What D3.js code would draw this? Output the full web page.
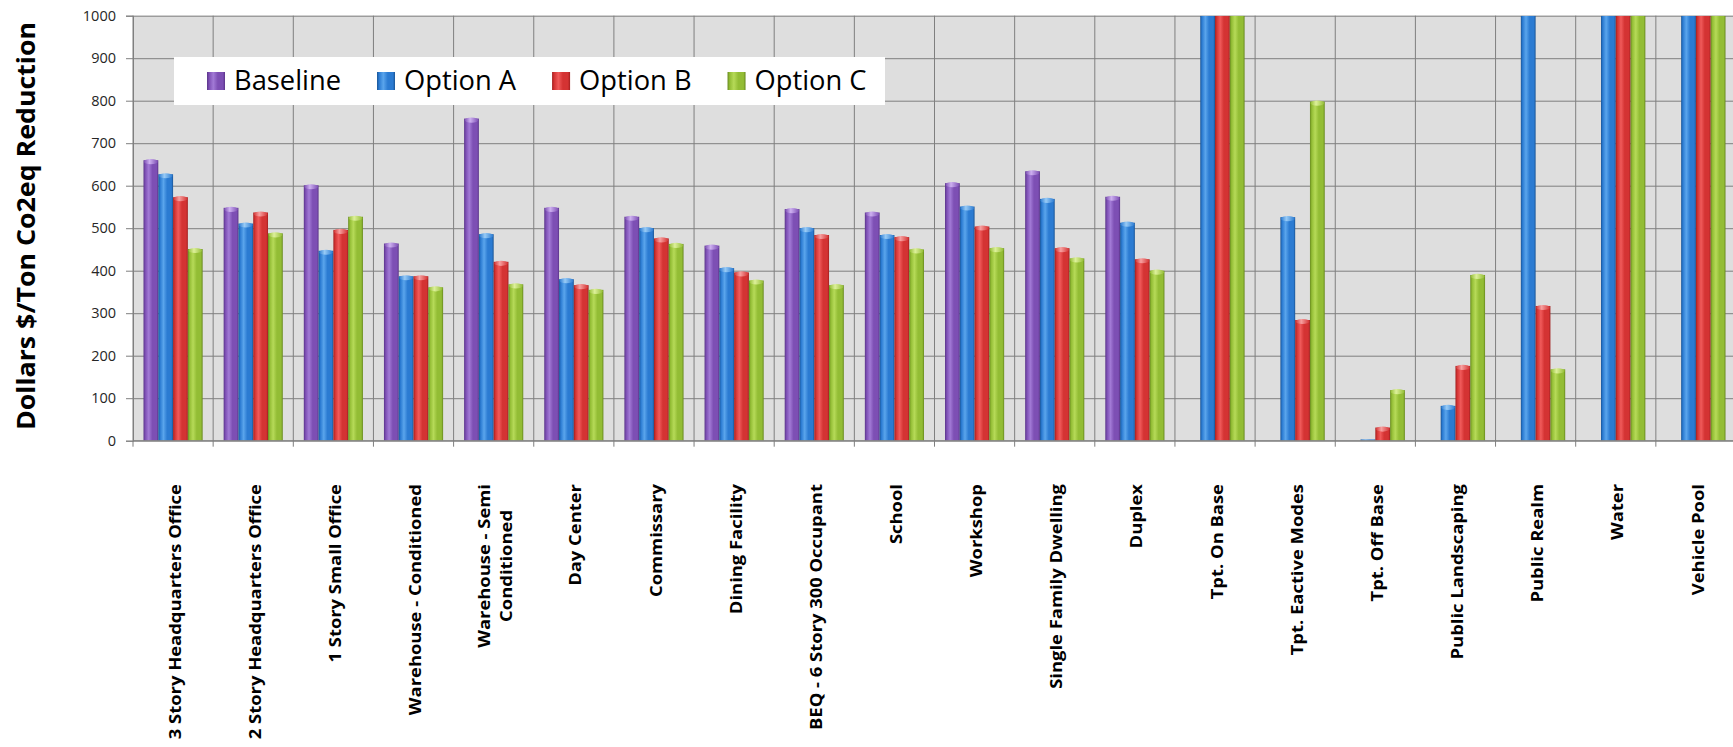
<!DOCTYPE html>
<html>
<head>
<meta charset="utf-8">
<script src="https://cdn.jsdelivr.net/npm/d3@7"></script>
<style>
  html, body { margin: 0; padding: 0; background: #ffffff; }
  svg { display: block; }
</style>
</head>
<body>
<svg id="chart" width="1733" height="747"></svg>
<script>
// Cost per ton of CO2eq reduction by facility / measure type
const categories = [
  "3 Story Headquarters Office", "2 Story Headquarters Office", "1 Story Small Office",
  "Warehouse - Conditioned", "Warehouse - Semi\nConditioned", "Day Center", "Commissary",
  "Dining Facility", "BEQ - 6 Story 300 Occupant", "School", "Workshop",
  "Single Family Dwelling", "Duplex", "Tpt. On Base", "Tpt. Eactive Modes",
  "Tpt. Off Base", "Public Landscaping", "Public Realm", "Water", "Vehicle Pool"
];
const seriesNames = ["Baseline", "Option A", "Option B", "Option C"];
const baseline = [660, 548, 601, 464, 758, 548, 527, 459, 545, 537, 606, 634, 574,
                  null, null, null, null, null, null, null];
const optionA  = [627, 511, 447, 387, 486, 380, 500, 406, 500, 484, 551, 569, 513,
                  1000, 526, 3, 82, 1000, 1000, 1000];
const optionB  = [573, 537, 496, 387, 421, 366, 476, 396, 484, 479, 504, 453, 427,
                  1000, 284, 31, 176, 317, 1000, 1000];
const optionC  = [451, 488, 527, 361, 368, 355, 463, 377, 366, 450, 453, 429, 400,
                  1000, 798, 119, 390, 168, 1000, 1000];
const yTicks = [0, 100, 200, 300, 400, 500, 600, 700, 800, 900, 1000];

const seriesValues = [baseline, optionA, optionB, optionC];

// Shading for each series: edge, body, highlight, top cap
const palette = [
  { edge: "#5a3489", body: "#7d4fb4", light: "#a27ad6", cap: "#cdb0f0" },
  { edge: "#1a5596", body: "#2b7bd2", light: "#5aa5ec", cap: "#98cbf6" },
  { edge: "#a11f1f", body: "#d43333", light: "#f05a5a", cap: "#f7a0a0" },
  { edge: "#67891e", body: "#93bd35", light: "#b6da58", cap: "#ddf09a" }
];

const plot = { left: 133, top: 15.7, bottom: 440.7, bandW: 80.15 };
plot.right = plot.left + categories.length * plot.bandW;

const svg = d3.select("#chart");
const defs = svg.append("defs");

palette.forEach((p, i) => {
  const g = defs.append("linearGradient").attr("id", "bar" + i)
    .attr("x1", "0").attr("x2", "1").attr("y1", "0").attr("y2", "0");
  [[0, p.edge], [0.12, p.body], [0.35, p.light], [0.6, p.body], [0.88, p.body], [1, p.edge]]
    .forEach(([o, c]) => g.append("stop").attr("offset", o).attr("stop-color", c));
  const c = defs.append("linearGradient").attr("id", "cap" + i)
    .attr("x1", "0").attr("x2", "1").attr("y1", "0").attr("y2", "0");
  [[0, p.body], [0.4, p.cap], [1, p.body]]
    .forEach(([o, col]) => c.append("stop").attr("offset", o).attr("stop-color", col));
});

defs.append("clipPath").attr("id", "plotClip")
  .append("rect")
  .attr("x", plot.left).attr("y", plot.top)
  .attr("width", plot.right - plot.left).attr("height", plot.bottom - plot.top);

// Scales
const y = d3.scaleLinear().domain([0, 1000]).range([plot.bottom, plot.top]);
const x0 = d3.scaleBand().domain(d3.range(categories.length))
  .range([plot.left, plot.right]).paddingInner(0).paddingOuter(0);
const x1 = d3.scaleBand().domain(d3.range(seriesNames.length))
  .range([10.5, x0.bandwidth() - 10.5]).padding(0);

// Plot background
svg.append("rect")
  .attr("x", plot.left).attr("y", plot.top)
  .attr("width", plot.right - plot.left).attr("height", plot.bottom - plot.top)
  .attr("fill", "#dedede");

// Horizontal gridlines
svg.append("g")
  .attr("transform", `translate(${plot.left},0)`)
  .call(d3.axisLeft(y).tickValues(yTicks).tickSize(-(plot.right - plot.left)).tickFormat(""))
  .call(g => g.select(".domain").remove())
  .call(g => g.selectAll(".tick line").attr("stroke", "#7f7f7f").attr("stroke-width", 1));

// Vertical category dividers
const dividers = d3.range(categories.length + 1).map(i => plot.left + i * x0.step());
svg.append("g").selectAll("line").data(dividers).join("line")
  .attr("x1", d => d).attr("x2", d => d)
  .attr("y1", plot.top).attr("y2", plot.bottom + 6)
  .attr("stroke", "#7f7f7f").attr("stroke-width", 1);

// Bars
const barLayer = svg.append("g").attr("clip-path", "url(#plotClip)");
const barData = [];
seriesValues.forEach((vals, s) => vals.forEach((v, c) => {
  if (v !== null) barData.push({ s, c, v });
}));
const groups = barLayer.selectAll("g.bar").data(barData).join("g").attr("class", "bar");
groups.append("rect")
  .attr("x", d => x0(d.c) + x1(d.s))
  .attr("y", d => y(d.v))
  .attr("width", x1.bandwidth())
  .attr("height", d => plot.bottom - y(d.v))
  .attr("fill", d => `url(#bar${d.s})`);
groups.filter(d => d.v < 1000 && d.v > 5).append("ellipse")
  .attr("cx", d => x0(d.c) + x1(d.s) + x1.bandwidth() / 2)
  .attr("cy", d => y(d.v) + 1.5)
  .attr("rx", x1.bandwidth() / 2 - 0.5)
  .attr("ry", 2.6)
  .attr("fill", d => `url(#cap${d.s})`);

// Axis lines
svg.append("line")
  .attr("x1", plot.left).attr("x2", plot.right)
  .attr("y1", plot.bottom).attr("y2", plot.bottom)
  .attr("stroke", "#7f7f7f").attr("stroke-width", 1);

// Y axis with ticks and labels
svg.append("g")
  .attr("transform", `translate(${plot.left},0)`)
  .call(d3.axisLeft(y).tickValues(yTicks).tickSize(7).tickPadding(10).tickFormat(d3.format("d")))
  .call(g => g.select(".domain").attr("stroke", "#7f7f7f"))
  .call(g => g.selectAll(".tick line").attr("stroke", "#7f7f7f"))
  .call(g => g.selectAll(".tick text")
    .attr("font-family", "'Open Sans', sans-serif")
    .attr("font-size", 14.5)
    .attr("fill", "#262626"));

// Y axis title (slightly stretched along its length, like the condensed source face)
svg.append("text")
  .attr("transform", `translate(35,226) rotate(-90) scale(1.07,1)`)
  .attr("text-anchor", "middle")
  .attr("font-family", "'Open Sans', sans-serif")
  .attr("font-weight", "bold")
  .attr("font-size", 25)
  .attr("fill", "#000")
  .text("Dollars $/Ton Co2eq Reduction");

// Category labels, rotated and hanging below the axis
const labelTop = 484;
const stretch = 1.15;
const labelLayer = svg.append("g");
categories.forEach((name, i) => {
  const lines = name.split("\n");
  const cx = x0(i) + x0.bandwidth() / 2 + 2;
  const t = labelLayer.append("text")
    .attr("font-family", "'Open Sans', sans-serif")
    .attr("font-weight", "bold")
    .attr("font-size", 16)
    .attr("fill", "#000")
    .attr("text-anchor", "middle");
  const lh = 1.35;
  lines.forEach((ln, k) => {
    t.append("tspan")
      .attr("x", 0)
      .attr("dy", k === 0 ? (0.35 - (lines.length - 1) * lh / 2) + "em" : lh + "em")
      .text(ln);
  });
  let maxW = 0;
  t.selectAll("tspan").each(function () { maxW = Math.max(maxW, this.getComputedTextLength()); });
  t.attr("transform",
    `translate(${cx},${labelTop + maxW * stretch / 2}) rotate(-90) scale(${stretch},1)`);
});

// Legend
const legend = svg.append("g");
legend.append("rect")
  .attr("x", 174).attr("y", 57).attr("width", 711).attr("height", 48)
  .attr("fill", "#ffffff");
let lx = 207;
seriesNames.forEach((name, i) => {
  legend.append("rect")
    .attr("x", lx).attr("y", 72).attr("width", 18).attr("height", 18)
    .attr("fill", `url(#bar${i})`);
  const t = legend.append("text")
    .attr("x", lx + 27).attr("y", 89.5)
    .attr("font-family", "'Open Sans', sans-serif")
    .attr("font-size", 27.3)
    .attr("fill", "#000")
    .text(name);
  lx = lx + 27 + t.node().getComputedTextLength() + 36;
});
</script>
</body>
</html>
